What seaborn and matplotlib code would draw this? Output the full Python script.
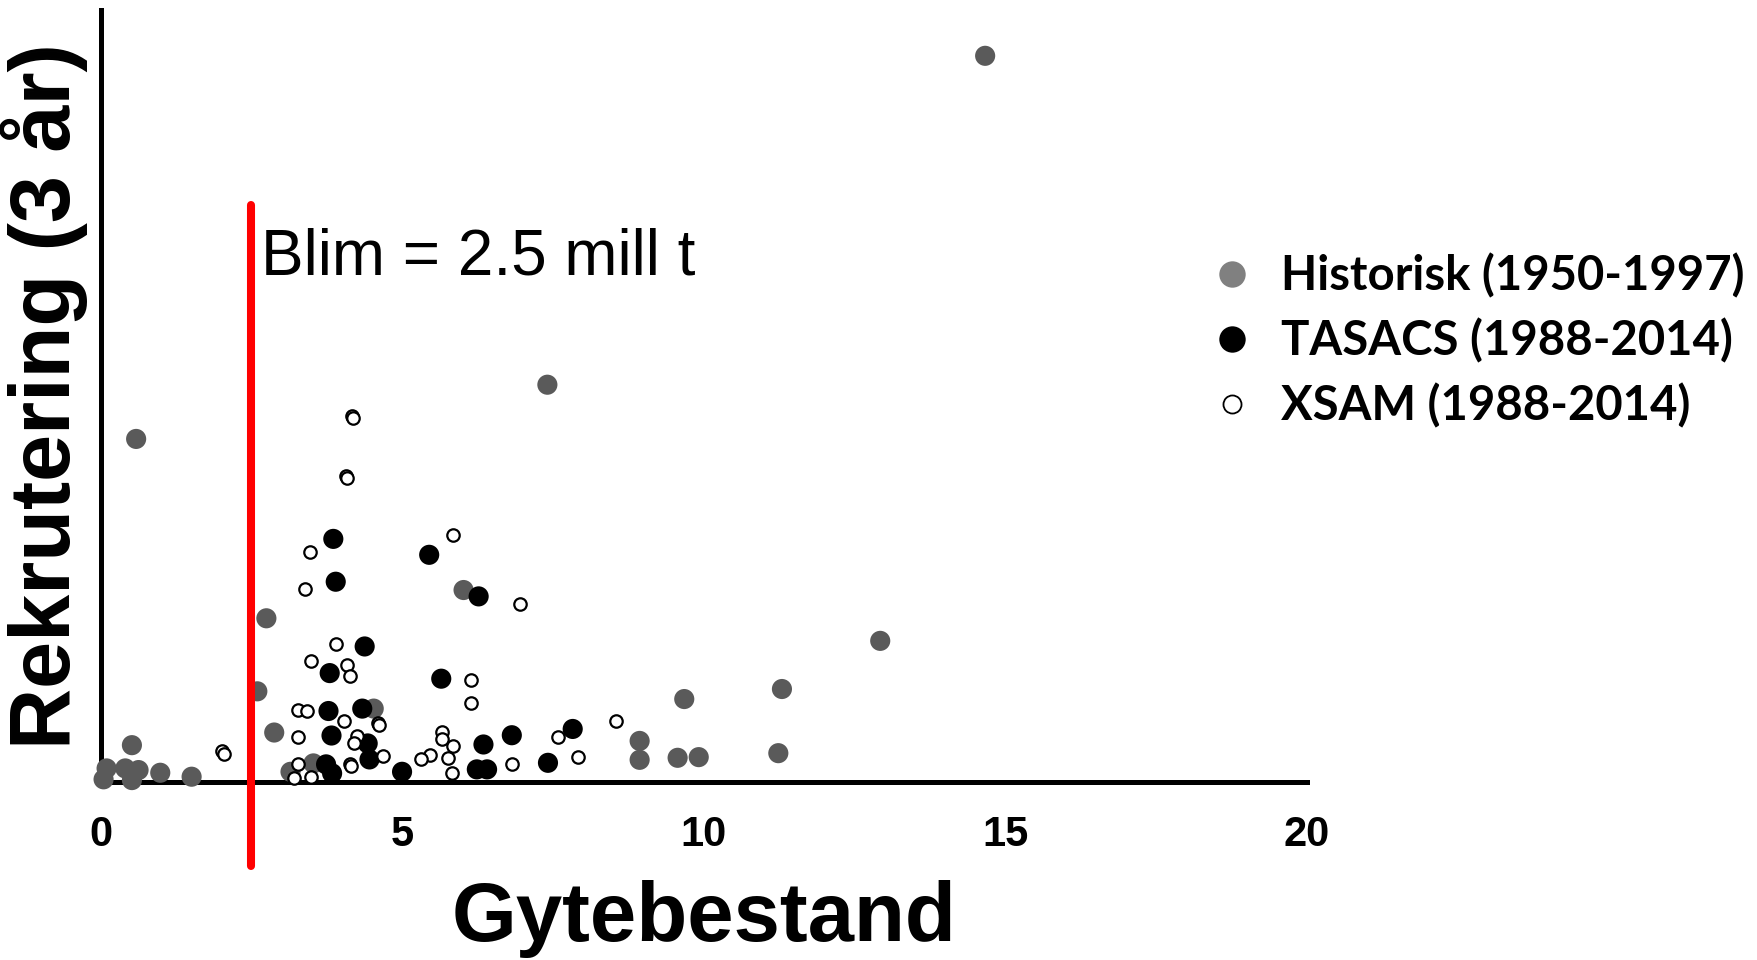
import matplotlib
matplotlib.use("Agg")
import matplotlib.pyplot as plt
import seaborn as sns
from matplotlib.lines import Line2D

# Gytebestand (mill. tonn) og rekruttering ved 3 år (relativ skala)
hist_ssb = [14.67, 7.41, 0.59, 2.75, 2.60, 2.88, 6.02, 4.53, 3.53, 3.15,
            12.93, 11.30, 9.68, 8.94, 8.94, 9.57, 9.92, 11.24, 0.52, 0.05,
            0.10, 0.41, 0.52, 0.63, 0.99, 1.51]
hist_rec = [75.22, 41.13, 35.51, 16.92, 9.35, 5.08, 19.85, 7.56, 1.88, 1.01,
            14.58, 9.59, 8.55, 4.21, 2.25, 2.46, 2.53, 2.94, 3.77, 0.23,
            1.36, 1.36, 0.15, 1.19, 0.91, 0.50]

tasacs_ssb = [3.86, 3.90, 5.45, 6.27, 4.38, 3.80, 5.65, 3.78, 4.34, 3.83,
              4.43, 4.46, 3.74, 3.84, 5.00, 6.35, 6.82, 6.24, 6.41, 7.42, 7.83]
tasacs_rec = [25.15, 20.71, 23.50, 19.19, 14.00, 11.24, 10.66, 7.31, 7.56, 4.77,
              3.95, 2.29, 1.78, 0.85, 1.01, 3.84, 4.80, 1.26, 1.26, 1.94, 5.45]

xsam_ssb = [5.85, 3.48, 3.39, 6.95, 3.91, 3.49, 4.09, 4.14, 6.14, 6.15,
            3.27, 3.43, 4.03, 4.60, 4.62, 3.28, 4.25, 4.21, 4.69, 4.13,
            4.15, 3.27, 3.21, 3.49, 5.67, 5.66, 5.85, 5.77, 5.47, 5.31,
            5.83, 6.83, 7.58, 7.91, 8.54, 4.17, 4.19, 4.07, 4.09, 2.02, 2.05]
xsam_rec = [25.51, 23.74, 19.91, 18.37, 14.23, 12.52, 12.03, 10.90, 10.52, 8.14,
            7.39, 7.28, 6.32, 6.05, 5.85, 4.63, 4.73, 4.01, 2.63, 1.80,
            1.60, 1.78, 0.33, 0.43, 5.14, 4.36, 3.67, 2.46, 2.74, 2.29,
            0.85, 1.78, 4.63, 2.53, 6.25, 37.93, 37.73, 31.68, 31.48, 3.20, 2.90]

BLIM = 2.5
blim_label = "Blim = 2.5 mill t"
x_ticks = [0, 5, 10, 15, 20]
x_ticklabels = ["0", "5", "10", "15", "20"]
series_labels = ["Historisk (1950-1997)", "TASACS (1988-2014)", "XSAM (1988-2014)"]
x_title = "Gytebestand"
y_title = "Rekrutering (3 år)"

sns.set_theme(style="white")
plt.rcParams["font.family"] = ["Liberation Sans", "DejaVu Sans"]

fig = plt.figure(figsize=(17.58, 9.6), dpi=100)
fig.patch.set_facecolor("white")
ax = fig.add_axes([0.0572, 0.1859, 0.686, 0.804])
ax.set_facecolor("none")

grey = "#5a5a5a"
sns.scatterplot(x=hist_ssb, y=hist_rec, color=grey, s=210, edgecolor="none",
                ax=ax, clip_on=False, zorder=3)
sns.scatterplot(x=tasacs_ssb, y=tasacs_rec, color="black", s=210, edgecolor="none",
                ax=ax, clip_on=False, zorder=4)
sns.scatterplot(x=xsam_ssb, y=xsam_rec, color="white", s=80, edgecolor="black",
                linewidth=1.6, ax=ax, clip_on=False, zorder=5)

ax.set_xlim(0, 20)
ax.set_ylim(0, 80)
ax.set_yticks([])
ax.set_xticks(x_ticks)
ax.set_xticklabels(x_ticklabels, fontsize=30, fontweight="bold")
ax.tick_params(axis="x", length=0, pad=24, colors="black")

for side in ("top", "right"):
    ax.spines[side].set_visible(False)
for side in ("left", "bottom"):
    ax.spines[side].set_linewidth(3.6)
    ax.spines[side].set_color("black")
    ax.spines[side].set_zorder(2)

# Blim reference line
ax.axvline(BLIM, ymin=-0.109, ymax=0.747, color="#ff0000", lw=5.8,
           clip_on=False, zorder=6)
ax.annotate(blim_label, xy=(BLIM, 0.657), xycoords=("data", "axes fraction"),
            xytext=(7, 0), textcoords="offset points", fontsize=46,
            ha="left", va="baseline", color="black")

ax.set_xlabel(x_title, fontsize=60, fontweight="bold", color="black")
ax.xaxis.set_label_coords(0.5, -0.128)
ax.set_ylabel(y_title, fontsize=61, fontweight="bold", color="black")
ax.yaxis.set_label_coords(-0.0108, 0.5)

handles = [
    Line2D([], [], ls="none", marker="o", markersize=19,
           markerfacecolor="#808080", markeredgecolor="none"),
    Line2D([], [], ls="none", marker="o", markersize=19,
           markerfacecolor="black", markeredgecolor="none"),
    Line2D([], [], ls="none", marker="o", markersize=13,
           markerfacecolor="white", markeredgecolor="black", markeredgewidth=1.3),
]
fig.legend(handles, series_labels, loc="upper left", bbox_to_anchor=(0.6874, 0.736),
           frameon=False, borderpad=0, borderaxespad=0, handlelength=1.0,
           handletextpad=0.54, labelspacing=0.42, labelcolor="black",
           prop=dict(family="Lato", weight="bold", size=34))

fig.savefig("out.png", dpi=100, facecolor="white")
